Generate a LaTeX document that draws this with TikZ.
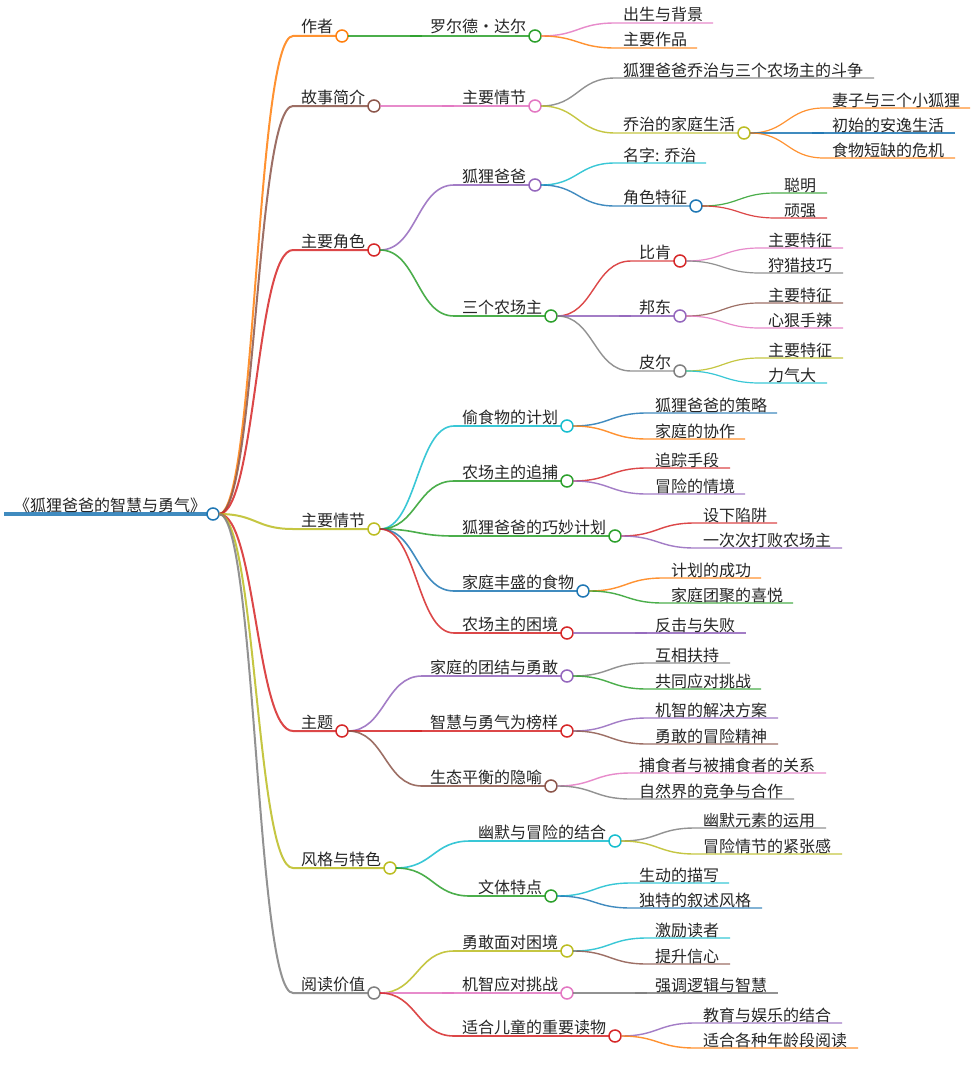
\documentclass[tikz,border=0pt]{standalone}
\usepackage{fontspec}
\setmainfont{Noto Sans CJK SC}
\usetikzlibrary{calc}
\definecolor{cB}{HTML}{1F77B4}
\definecolor{cO}{HTML}{FF7F0E}
\definecolor{cG}{HTML}{2CA02C}
\definecolor{cR}{HTML}{D62728}
\definecolor{cP}{HTML}{9467BD}
\definecolor{cN}{HTML}{8C564B}
\definecolor{cK}{HTML}{E377C2}
\definecolor{cA}{HTML}{7F7F7F}
\definecolor{cL}{HTML}{BCBD22}
\definecolor{cC}{HTML}{17BECF}
\tikzset{
  x=1pt,y=-1pt,
  dot/.style={circle,draw,fill=white,line width=1.5pt,minimum size=12pt,inner sep=0pt,outer sep=0pt},
  lab/.style={anchor=base west,inner sep=0pt,outer sep=0pt,font=\fontsize{16pt}{16pt}\selectfont,text=black!85},
  wire/.style={draw opacity=.85},
}
% circle-ended branch: name, parent, colour, width, text x, y, circle x, text
\newcommand\bn[8]{%
  \node[dot,draw=#3] (#1) at (#7,#6) {};
  \coordinate (#1s) at (#5-9,#6);
  \coordinate (#1b) at (#5-21,#6);
  \draw[wire,color=#3,line width=#4pt] let \p1=(#2.east),\p2=(#1s) in
    (\p1) .. controls ({0.5*\x1+0.5*\x2},\y1) and ({0.5*\x1+0.5*\x2},\y2) .. (\p2) -- (#1.west);
  \node[lab] (#1t) at (#5-0.8,#6-3) {#8};
}
% leaf branch: name, parent, colour, width, text x, y, end x, text
\newcommand\lf[8]{%
  \coordinate (#1) at (#7,#6);
  \coordinate (#1s) at (#5-9,#6);
  \coordinate (#1b) at (#5-21,#6);
  \draw[wire,color=#3,line width=#4pt] let \p1=(#2.east),\p2=(#1s) in
    (\p1) .. controls ({0.5*\x1+0.5*\x2},\y1) and ({0.5*\x1+0.5*\x2},\y2) .. (\p2) -- (#1);
  \node[lab] (#1t) at (#5-0.8,#6-2) {#8};
}
% darker overlap on a straight link: name, colour, width
\newcommand\olap[3]{\draw[wire,color=#2,line width=#3pt] (#1b) -- (#1s);}
\begin{document}
\begin{tikzpicture}
\useasboundingbox (0,0) rectangle (976,1081);
\fill[white] (0,0) rectangle (976,1081);
% root
\node[dot,draw=cB] (root) at (213,514) {};
\coordinate (rootstart) at (4,514);
\draw[cB,line width=4.5pt,wire] (rootstart) -- (root.west);
\node[lab] (roott) at (14,511) {《狐狸爸爸的智慧与勇气》};
% level 1
\bn{a}{root}{cO}{2}{302}{36}{342}{作者}
\bn{b}{root}{cN}{2}{302}{106}{374}{故事简介}
\bn{c}{root}{cR}{2}{302}{250}{374}{主要角色}
\bn{d}{root}{cL}{2}{302}{529}{374}{主要情节}
\bn{e}{root}{cR}{2}{302}{731}{342}{主题}
\bn{f}{root}{cL}{2}{302}{868}{390}{风格与特色}
\bn{g}{root}{cA}{2}{302}{993}{374}{阅读价值}
% level 2
\bn{a1}{a}{cG}{1.6}{431}{36}{535}{罗尔德・达尔}
\bn{b1}{b}{cK}{1.6}{463}{106}{535}{主要情节}
\bn{c1}{c}{cP}{1.6}{463}{185}{535}{狐狸爸爸}
\bn{c2}{c}{cG}{1.6}{463}{316}{551}{三个农场主}
\bn{d1}{d}{cC}{1.6}{463}{426}{567}{偷食物的计划}
\bn{d2}{d}{cG}{1.6}{463}{481}{567}{农场主的追捕}
\bn{d3}{d}{cG}{1.6}{463}{536}{615}{狐狸爸爸的巧妙计划}
\bn{d4}{d}{cB}{1.6}{463}{591}{583}{家庭丰盛的食物}
\bn{d5}{d}{cR}{1.6}{463}{633}{567}{农场主的困境}
\bn{e1}{e}{cP}{1.6}{431}{676}{567}{家庭的团结与勇敢}
\bn{e2}{e}{cR}{1.6}{431}{731}{567}{智慧与勇气为榜样}
\bn{e3}{e}{cN}{1.6}{431}{786}{551}{生态平衡的隐喻}
\bn{f1}{f}{cC}{1.6}{479}{841}{615}{幽默与冒险的结合}
\bn{f2}{f}{cG}{1.6}{479}{896}{551}{文体特点}
\bn{g1}{g}{cL}{1.6}{463}{951}{567}{勇敢面对困境}
\bn{g2}{g}{cK}{1.6}{463}{993}{567}{机智应对挑战}
\bn{g3}{g}{cR}{1.6}{463}{1036}{615}{适合儿童的重要读物}
\olap{a1}{cG}{1.6}
\olap{b1}{cK}{1.6}
\olap{e2}{cR}{1.6}
\olap{g2}{cK}{1.6}
% level 3
\lf{a11}{a1}{cK}{1.4}{624}{23}{713}{出生与背景}
\lf{a12}{a1}{cO}{1.4}{624}{48}{697}{主要作品}
\lf{b11}{b1}{cA}{1.4}{624}{78}{874}{狐狸爸爸乔治与三个农场主的斗争}
\bn{b12}{b1}{cL}{1.4}{624}{133}{744}{乔治的家庭生活}
\lf{c11}{c1}{cC}{1.4}{624}{163}{706}{名字: 乔治}
\bn{c12}{c1}{cB}{1.4}{624}{206}{696}{角色特征}
\bn{c21}{c2}{cR}{1.4}{640}{261}{680}{比肯}
\bn{c22}{c2}{cP}{1.4}{640}{316}{680}{邦东}
\bn{c23}{c2}{cA}{1.4}{640}{371}{680}{皮尔}
\lf{d11}{d1}{cB}{1.4}{656}{413}{777}{狐狸爸爸的策略}
\lf{d12}{d1}{cO}{1.4}{656}{439}{745}{家庭的协作}
\lf{d21}{d2}{cR}{1.4}{656}{468}{730}{追踪手段}
\lf{d22}{d2}{cP}{1.4}{656}{494}{745}{冒险的情境}
\lf{d31}{d3}{cR}{1.4}{704}{523}{777}{设下陷阱}
\lf{d32}{d3}{cP}{1.4}{704}{548}{842}{一次次打败农场主}
\lf{d41}{d4}{cO}{1.4}{672}{578}{761}{计划的成功}
\lf{d42}{d4}{cG}{1.4}{672}{603}{793}{家庭团聚的喜悦}
\lf{d51}{d5}{cP}{1.4}{656}{633}{746}{反击与失败}
\lf{e11}{e1}{cA}{1.4}{656}{663}{730}{互相扶持}
\lf{e12}{e1}{cG}{1.4}{656}{689}{761}{共同应对挑战}
\lf{e21}{e2}{cP}{1.4}{656}{718}{778}{机智的解决方案}
\lf{e22}{e2}{cN}{1.4}{656}{744}{778}{勇敢的冒险精神}
\lf{e31}{e3}{cK}{1.4}{640}{773}{826}{捕食者与被捕食者的关系}
\lf{e32}{e3}{cA}{1.4}{640}{799}{794}{自然界的竞争与合作}
\lf{f11}{f1}{cA}{1.4}{704}{828}{826}{幽默元素的运用}
\lf{f12}{f1}{cL}{1.4}{704}{854}{842}{冒险情节的紧张感}
\lf{f21}{f2}{cC}{1.4}{640}{883}{729}{生动的描写}
\lf{f22}{f2}{cB}{1.4}{640}{908}{762}{独特的叙述风格}
\lf{g11}{g1}{cC}{1.4}{656}{938}{730}{激励读者}
\lf{g12}{g1}{cN}{1.4}{656}{964}{730}{提升信心}
\lf{g21}{g2}{cA}{1.4}{656}{993}{778}{强调逻辑与智慧}
\lf{g31}{g3}{cP}{1.4}{704}{1023}{842}{教育与娱乐的结合}
\lf{g32}{g3}{cO}{1.4}{704}{1048}{858}{适合各种年龄段阅读}
\olap{c22}{cP}{1.4}
\olap{d51}{cP}{1.4}
\olap{g21}{cA}{1.4}
% level 4
\lf{b121}{b12}{cO}{1.2}{833}{108}{970}{妻子与三个小狐狸}
\lf{b122}{b12}{cB}{1.2}{833}{133}{955}{初始的安逸生活}
\lf{b123}{b12}{cO}{1.2}{833}{158}{955}{食物短缺的危机}
\lf{c121}{c12}{cG}{1.2}{785}{193}{827}{聪明}
\lf{c122}{c12}{cR}{1.2}{785}{218}{827}{顽强}
\lf{c211}{c21}{cK}{1.2}{769}{248}{843}{主要特征}
\lf{c212}{c21}{cA}{1.2}{769}{273}{843}{狩猎技巧}
\lf{c221}{c22}{cN}{1.2}{769}{303}{843}{主要特征}
\lf{c222}{c22}{cK}{1.2}{769}{328}{843}{心狠手辣}
\lf{c231}{c23}{cL}{1.2}{769}{358}{843}{主要特征}
\lf{c232}{c23}{cC}{1.2}{769}{383}{827}{力气大}
\olap{b122}{cB}{1.2}
\end{tikzpicture}
\end{document}
